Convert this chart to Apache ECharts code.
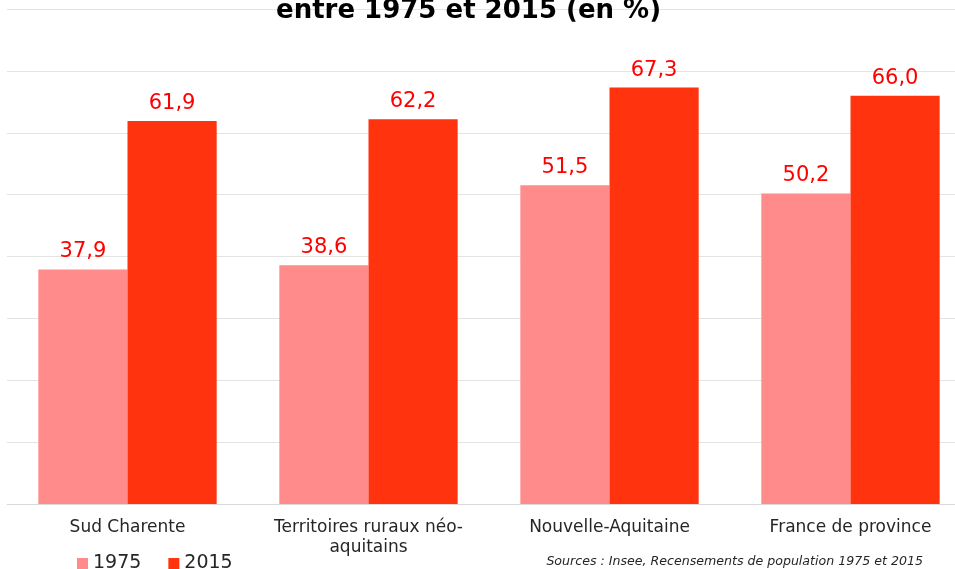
<!DOCTYPE html>
<html>
<head>
<meta charset="utf-8">
<script src="https://cdn.jsdelivr.net/npm/echarts@6/dist/echarts.min.js"></script>
<style>
  html, body { margin: 0; padding: 0; background: #fff; overflow: hidden; }
  /* le graphique original est rogné à droite : la zone déborde de la fenêtre */
  #main { width: 975px; height: 569px; }
</style>
</head>
<body>
<div id="main"></div>
<script>
var categories = ['Sud Charente', 'Territoires ruraux néo-\naquitains', 'Nouvelle-Aquitaine', 'France de province'];
var values1975 = [37.9, 38.6, 51.5, 50.2];
var values2015 = [61.9, 62.2, 67.3, 66.0];

var myChart = echarts.init(document.getElementById('main'));

function virgule(p) {
    return p.value.toFixed(1).replace('.', ',');
}

var option = {
    // titre (coupé en haut dans l'original)
    title: {
        text: 'entre 1975 et 2015 (en %)',
        left: 271,
        top: -7,
        textStyle: {
            fontFamily: 'DejaVu Sans',
            fontWeight: 'bold',
            fontSize: 26,
            color: '#000'
        }
    },
    legend: {
        data: ['1975', '2015'],
        left: 72,
        top: 549,
        itemWidth: 11,
        itemHeight: 11,
        itemGap: 27,
        icon: 'rect',
        textStyle: {
            fontFamily: 'DejaVu Sans',
            fontSize: 19,
            color: '#262626'
        }
    },
    color: ['#FF8B8B', '#FF330E'],
    graphic: [{
        type: 'text',
        right: 52,
        top: 555,
        style: {
            text: 'Sources : Insee, Recensements de population 1975 et 2015',
            font: 'italic 12.6px "DejaVu Sans"',
            fill: '#262626'
        }
    }],
    grid: {
        left: 7,
        right: 4,
        top: 9,
        bottom: 65
    },
    xAxis: [{
        type: 'category',
        data: categories,
        axisTick: { show: false },
        axisLine: { lineStyle: { color: '#D9D9D9' } },
        axisLabel: {
            interval: 0,
            fontFamily: 'DejaVu Sans',
            fontSize: 17,
            color: '#262626',
            margin: 14,
            lineHeight: 20
        }
    }],
    yAxis: [{
        type: 'value',
        min: 0,
        max: 80,
        interval: 10,
        axisLabel: { show: false },
        axisLine: { show: false },
        axisTick: { show: false },
        splitLine: { lineStyle: { color: '#E3E3E3' } }
    }],
    series: [
        {
            name: '1975',
            type: 'bar',
            barWidth: '37%',
            barGap: '0%',
            data: values1975,
            label: {
                show: true,
                position: 'top',
                distance: 7,
                formatter: virgule,
                fontFamily: 'DejaVu Sans',
                fontSize: 21,
                color: '#FF0000'
            }
        },
        {
            name: '2015',
            type: 'bar',
            barWidth: '37%',
            barGap: '0%',
            data: values2015,
            label: {
                show: true,
                position: 'top',
                distance: 7,
                formatter: virgule,
                fontFamily: 'DejaVu Sans',
                fontSize: 21,
                color: '#FF0000'
            }
        }
    ]
};

myChart.setOption(option);
</script>
</body>
</html>
